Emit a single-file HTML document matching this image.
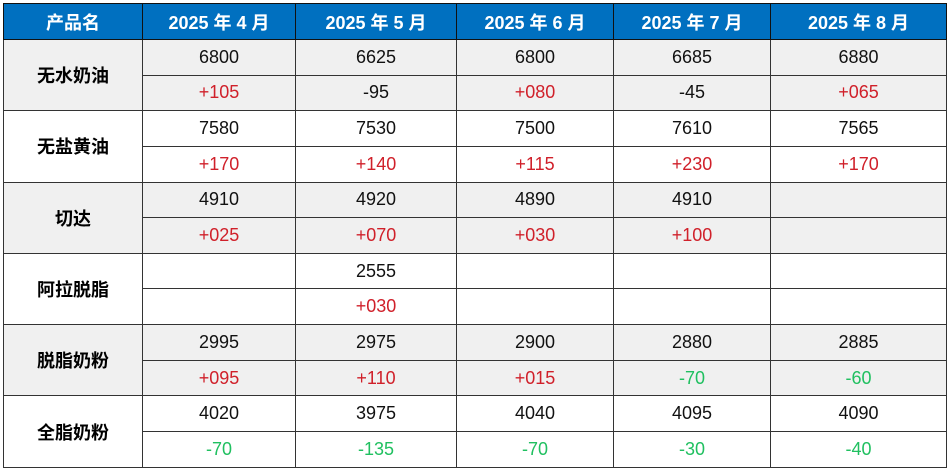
<!DOCTYPE html>
<html><head><meta charset="utf-8"><style>
html,body{margin:0;padding:0;background:#fff;width:950px;height:471px;overflow:hidden}
table{position:absolute;left:3px;top:3px;border-collapse:collapse;table-layout:fixed;font-family:"Liberation Sans","Noto Sans CJK SC",sans-serif}
td,th{border:1.3px solid #333;text-align:center;padding:0;font-size:18px;color:#111}
th{background:#0070c0;color:#fff;font-weight:bold;font-size:18px;height:35px;border-color:#111}
tr.r td{height:34.65px}
.g td{background:#f0f0f0}
td.n{font-weight:bold;font-size:18px;color:#000}
.p{color:#d0202a}.m{color:#20c060}
</style></head><body>
<table>
<colgroup><col style="width:139px"><col style="width:153px"><col style="width:161px"><col style="width:157px"><col style="width:157px"><col style="width:176px"></colgroup>
<tr><th>产品名</th><th>2025 年 4 月</th><th>2025 年 5 月</th><th>2025 年 6 月</th><th>2025 年 7 月</th><th>2025 年 8 月</th></tr>
<tr class="r g"><td class="n" rowspan="2">无水奶油</td><td>6800</td><td>6625</td><td>6800</td><td>6685</td><td>6880</td></tr>
<tr class="r g"><td class="p">+105</td><td>-95</td><td class="p">+080</td><td>-45</td><td class="p">+065</td></tr>
<tr class="r"><td class="n" rowspan="2">无盐黄油</td><td>7580</td><td>7530</td><td>7500</td><td>7610</td><td>7565</td></tr>
<tr class="r"><td class="p">+170</td><td class="p">+140</td><td class="p">+115</td><td class="p">+230</td><td class="p">+170</td></tr>
<tr class="r g"><td class="n" rowspan="2">切达</td><td>4910</td><td>4920</td><td>4890</td><td>4910</td><td></td></tr>
<tr class="r g"><td class="p">+025</td><td class="p">+070</td><td class="p">+030</td><td class="p">+100</td><td></td></tr>
<tr class="r"><td class="n" rowspan="2">阿拉脱脂</td><td></td><td>2555</td><td></td><td></td><td></td></tr>
<tr class="r"><td></td><td class="p">+030</td><td></td><td></td><td></td></tr>
<tr class="r g"><td class="n" rowspan="2">脱脂奶粉</td><td>2995</td><td>2975</td><td>2900</td><td>2880</td><td>2885</td></tr>
<tr class="r g"><td class="p">+095</td><td class="p">+110</td><td class="p">+015</td><td class="m">-70</td><td class="m">-60</td></tr>
<tr class="r"><td class="n" rowspan="2">全脂奶粉</td><td>4020</td><td>3975</td><td>4040</td><td>4095</td><td>4090</td></tr>
<tr class="r"><td class="m">-70</td><td class="m">-135</td><td class="m">-70</td><td class="m">-30</td><td class="m">-40</td></tr>
</table>
</body></html>
